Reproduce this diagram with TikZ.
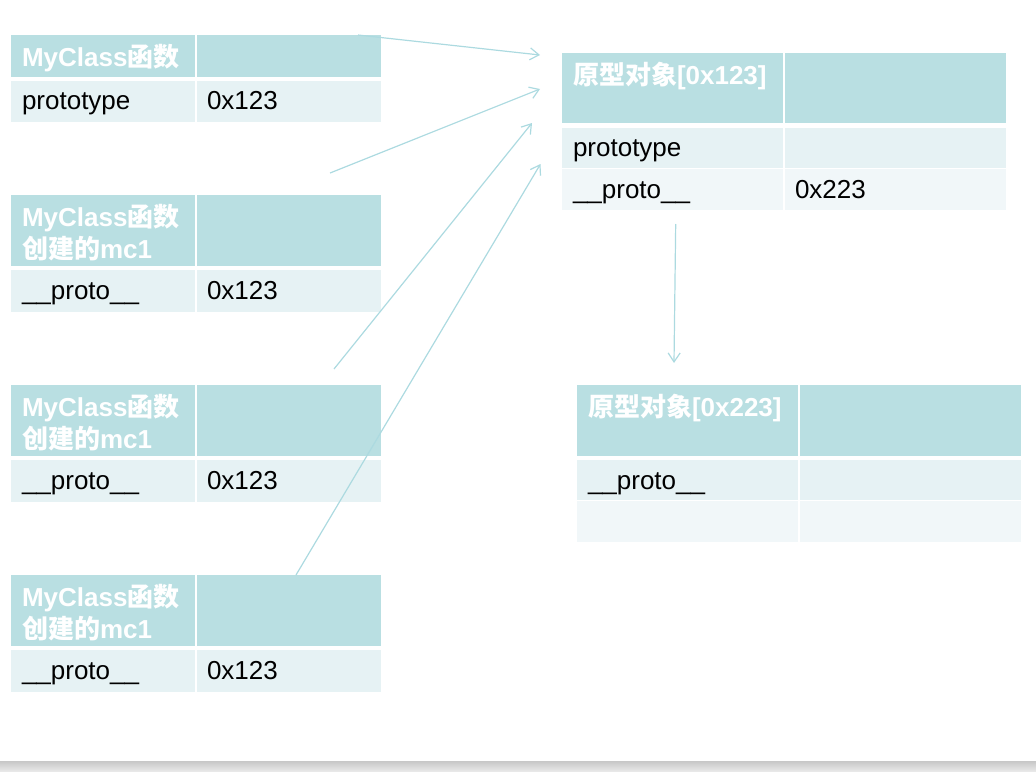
\documentclass[tikz,border=0pt]{standalone}
\usepackage{fontspec}
\setmainfont{Liberation Sans}
\newfontfamily\cjk{Noto Sans CJK SC}
\usetikzlibrary{arrows.meta}
\definecolor{hd}{RGB}{185,223,226}
\definecolor{rowa}{RGB}{230,242,244}
\definecolor{rowb}{RGB}{241,247,249}
\definecolor{arr}{RGB}{172,218,224}
\newcommand{\mkcell}[6]{%
  \node[cellbox, fill=#6, minimum width={(#4-#2)*1pt}, minimum height={(#5-#3)*1pt}] (#1) at (#2,#3) {};}
\begin{document}
\begin{tikzpicture}[x=1pt,y=-1pt,
  cellbox/.style={anchor=north west, inner sep=0pt, outer sep=0pt, draw=none},
  txt/.style={anchor=base west, inner sep=0pt, outer sep=0pt, text=black, yshift=-1pt, font=\fontsize{26}{32}\selectfont},
  hdtxt/.style={txt, text=white, font=\fontsize{26}{32}\selectfont\bfseries},
  conn/.style={draw=arr, line width=1.2pt, -{Straight Barb[length=9pt,width=12pt,line width=1.2pt]}}]
\useasboundingbox (0,0) rectangle (1036,771);
\shade[top color=black!22, bottom color=black!9] (0,761) rectangle (1036,771);

% table A
\mkcell{aH1}{11}{35}{195.3}{77}{hd}
\mkcell{aH2}{196.7}{35}{381}{77}{hd}
\mkcell{aR1}{11}{80.5}{195.3}{121.7}{rowa}
\mkcell{aR2}{196.7}{80.5}{381}{121.7}{rowa}
\node[hdtxt] (aT1) at (22,65) {MyClass{\cjk 函数}};
\node[txt] (aT2) at (22,108) {prototype};
\node[txt] (aT3) at (207,108) {0x123};

% table B
\mkcell{bH1}{11}{195}{195.3}{266}{hd}
\mkcell{bH2}{196.7}{195}{381}{266}{hd}
\mkcell{bR1}{11}{270}{195.3}{311.7}{rowa}
\mkcell{bR2}{196.7}{270}{381}{311.7}{rowa}
\node[hdtxt] (bT1) at (22,225) {MyClass{\cjk 函数}};
\node[hdtxt] (bT2) at (22,257) {{\cjk 创建的}mc1};
\node[txt] (bT3) at (22,298) {\_\_proto\_\_};
\node[txt] (bT4) at (207,298) {0x123};

% table C
\mkcell{cH1}{11}{385}{195.3}{456}{hd}
\mkcell{cH2}{196.7}{385}{381}{456}{hd}
\mkcell{cR1}{11}{460}{195.3}{501.7}{rowa}
\mkcell{cR2}{196.7}{460}{381}{501.7}{rowa}
\node[hdtxt] (cT1) at (22,415) {MyClass{\cjk 函数}};
\node[hdtxt] (cT2) at (22,447) {{\cjk 创建的}mc1};
\node[txt] (cT3) at (22,488) {\_\_proto\_\_};
\node[txt] (cT4) at (207,488) {0x123};

% table D
\mkcell{dH1}{11}{575}{195.3}{646}{hd}
\mkcell{dH2}{196.7}{575}{381}{646}{hd}
\mkcell{dR1}{11}{650}{195.3}{691.7}{rowa}
\mkcell{dR2}{196.7}{650}{381}{691.7}{rowa}
\node[hdtxt] (dT1) at (22,605) {MyClass{\cjk 函数}};
\node[hdtxt] (dT2) at (22,637) {{\cjk 创建的}mc1};
\node[txt] (dT3) at (22,678) {\_\_proto\_\_};
\node[txt] (dT4) at (207,678) {0x123};

% right table 1
\mkcell{pH1}{561.7}{53.3}{783.3}{123.3}{hd}
\mkcell{pH2}{785.3}{53.3}{1006}{123.3}{hd}
\mkcell{pR1}{561.7}{127.7}{783.3}{167.7}{rowa}
\mkcell{pR2}{785.3}{127.7}{1006}{167.7}{rowa}
\mkcell{pS1}{561.7}{169.3}{783.3}{210}{rowb}
\mkcell{pS2}{785.3}{169.3}{1006}{210}{rowb}
\node[hdtxt] (pT1) at (573,83.5) {{\cjk 原型对象}[0x123]};
\node[txt] (pT2) at (573,155.7) {prototype};
\node[txt] (pT3) at (573,197.3) {\_\_proto\_\_};
\node[txt] (pT4) at (795,197.3) {0x223};

% right table 2
\mkcell{qH1}{577}{385}{798}{455.7}{hd}
\mkcell{qH2}{799.5}{385}{1021}{455.7}{hd}
\mkcell{qR1}{577}{460}{798}{500}{rowa}
\mkcell{qR2}{799.5}{460}{1021}{500}{rowa}
\mkcell{qS1}{577}{501.3}{798}{541.7}{rowb}
\mkcell{qS2}{799.5}{501.3}{1021}{541.7}{rowb}
\node[hdtxt] (qT1) at (588,415) {{\cjk 原型对象}[0x223]};
\node[txt] (qT2) at (588,488) {\_\_proto\_\_};

% connectors
\coordinate (s1) at (358,35);   \coordinate (e1) at (540,55);
\coordinate (s2) at (330,173);  \coordinate (e2) at (540,89);
\coordinate (s3) at (334,369);  \coordinate (e3) at (532,123);
\coordinate (s4) at (296,575);  \coordinate (e4) at (540.5,164);
\coordinate (s5) at (675.7,224);\coordinate (e5) at (674,363);
\draw[conn] (s1) -- (e1);
\draw[conn] (s2) -- (e2);
\draw[conn] (s3) -- (e3);
\draw[conn] (s4) -- (e4);
\draw[conn] (s5) -- (e5);
\end{tikzpicture}
\end{document}
